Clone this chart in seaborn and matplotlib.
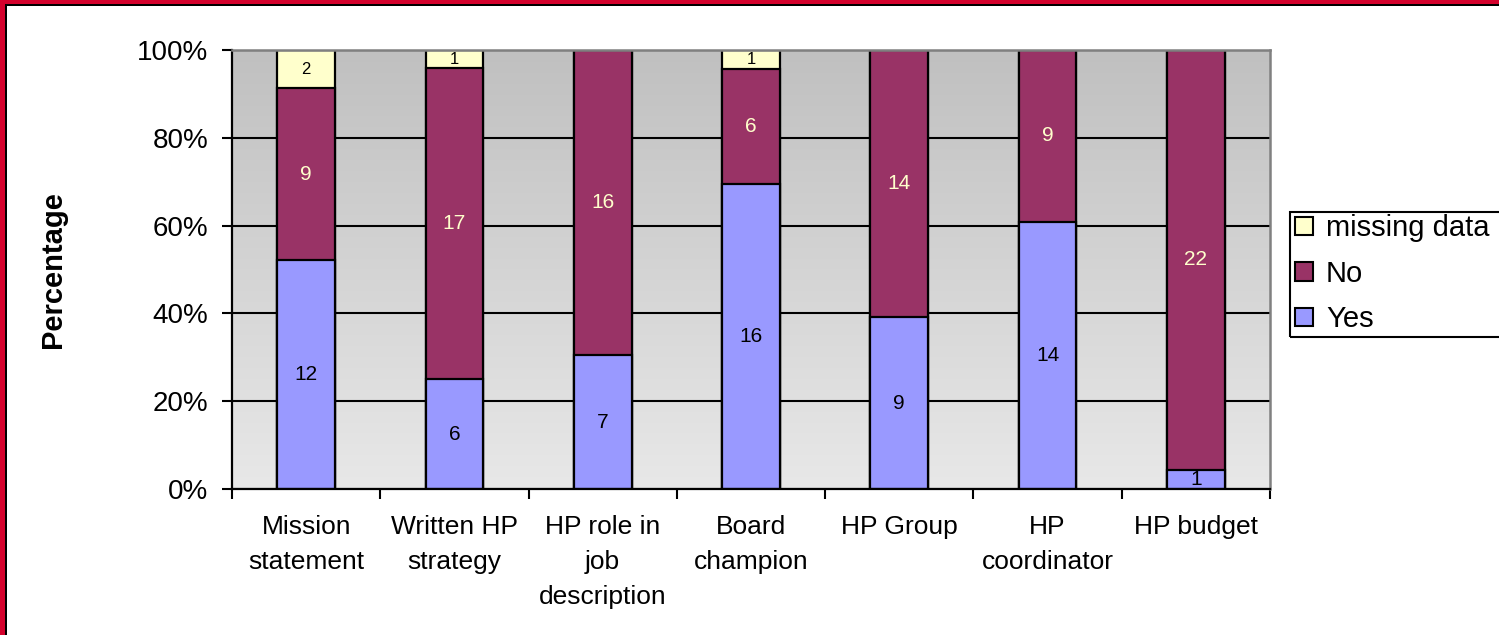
import numpy as np
import pandas as pd
import matplotlib
matplotlib.use("Agg")
import matplotlib.pyplot as plt
from matplotlib.colors import LinearSegmentedColormap
from matplotlib.patches import Rectangle, Patch
import seaborn as sns

# ---- data ----
categories = ["Mission\nstatement", "Written HP\nstrategy", "HP role in\njob\ndescription",
              "Board\nchampion", "HP Group", "HP\ncoordinator", "HP budget"]
yes = [12, 6, 7, 16, 9, 14, 1]
no = [9, 17, 16, 6, 14, 9, 22]
missing = [2, 1, 0, 1, 0, 0, 0]
series_names = ["Yes", "No", "missing data"]
y_ticks = [0, 20, 40, 60, 80, 100]
y_tick_labels = ["0%", "20%", "40%", "60%", "80%", "100%"]

colors = {"Yes": "#9999ff", "No": "#993366", "missing data": "#ffffcc"}
label_colors = {"Yes": "black", "No": "#ffffcc", "missing data": "black"}

df = pd.DataFrame({"category": categories, "Yes": yes, "No": no, "missing data": missing})
total = df[series_names].sum(axis=1)
for s in series_names:
    df[s + "_pct"] = df[s] / total * 100
df["cum_yes"] = df["Yes_pct"]
df["cum_no"] = df["Yes_pct"] + df["No_pct"]
df["cum_missing"] = df["cum_no"] + df["missing data_pct"]

sns.set_theme(style="white")
plt.rcParams["font.family"] = ["Liberation Sans", "DejaVu Sans"]
for k in ["text.color", "axes.labelcolor", "xtick.color", "ytick.color"]:
    plt.rcParams[k] = "black"

W, H = 1499, 635
fig = plt.figure(figsize=(W / 100, H / 100), dpi=100)
fig.patch.set_facecolor("white")
ax = fig.add_axes([232 / W, 1 - 489 / H, (1270 - 232) / W, (489 - 50) / H])

# gradient background
cmap = LinearSegmentedColormap.from_list("bg", ["#c0c0c0", "#e8e8e8"])
ax.imshow(np.linspace(0, 1, 256).reshape(-1, 1), extent=(-0.5, 6.5, 0, 100),
          aspect="auto", cmap=cmap, zorder=0, interpolation="bilinear")

bar_w = 0.39
layers = [("cum_missing", "missing data"), ("cum_no", "No"), ("cum_yes", "Yes")]
for col, name in layers:
    sns.barplot(data=df, x="category", y=col, order=categories, color=colors[name],
                saturation=1, width=bar_w, edgecolor="black", linewidth=1.6,
                errorbar=None, ax=ax, zorder=2)

# segment labels
bottoms = {"Yes": [0] * len(df), "No": df["cum_yes"].tolist(), "missing data": df["cum_no"].tolist()}
for name in series_names:
    for i in range(len(df)):
        cnt = df[name].iloc[i]
        if cnt == 0:
            continue
        mid = bottoms[name][i] + df[name + "_pct"].iloc[i] / 2
        fs = 12 if name == "missing data" else 15
        ax.text(i, mid, str(cnt), ha="center", va="center", fontsize=fs,
                color=label_colors[name], zorder=5)

ax.set_xlim(-0.5, 6.5)
ax.set_ylim(0, 100)
ax.set_yticks(y_ticks)
ax.set_yticklabels(y_tick_labels, fontsize=20)
ax.set_xticks(range(len(categories)))
ax.set_xticklabels(categories, fontsize=19, linespacing=1.57, va="top")
ax.set_xticks(np.arange(-0.5, 7, 1), minor=True)
ax.tick_params(axis="x", which="major", length=0, pad=19)
ax.tick_params(axis="x", which="minor", length=7, width=1.5, color="black", direction="out", bottom=True)
ax.tick_params(axis="y", length=7, width=1.5, color="black", direction="out", pad=10, left=True)
ax.set_xlabel("")
ax.set_ylabel("")

ax.set_axisbelow(True)
ax.yaxis.grid(True, color="black", linewidth=1.5)
ax.xaxis.grid(False)

for side in ["left", "bottom"]:
    ax.spines[side].set_color("black")
    ax.spines[side].set_linewidth(1.6)
for side in ["top", "right"]:
    ax.spines[side].set_color("#808080")
    ax.spines[side].set_linewidth(1.8)
for sp in ax.spines.values():
    sp.set_zorder(3)

fig.text(53 / W, 1 - 270 / H, "Percentage", rotation=90, ha="center", va="center",
         fontsize=21, fontweight="bold", color="black")

# legend (frame drawn separately so it runs off the right edge as in the original)
handles = [Patch(facecolor=colors[n], edgecolor="black", linewidth=1.5) for n in reversed(series_names)]
leg = fig.legend(handles, list(reversed(series_names)), loc="upper left",
                 bbox_to_anchor=(1291 / W, 1 - 210 / H), bbox_transform=fig.transFigure,
                 fontsize=21, frameon=False, borderaxespad=0,
                 handlelength=0.6, handleheight=0.6, handletextpad=0.45,
                 labelspacing=0.6, borderpad=0.15)
fig.add_artist(Rectangle((1290 / W, 1 - 337 / H), 230 / W, 125 / H, transform=fig.transFigure,
                         fill=False, edgecolor="black", lw=1.5, zorder=4))

# frame border (red + thin black inner line) on top and left
red = "#d4022d"
fig.add_artist(Rectangle((0, 0), 5 / W, 1, transform=fig.transFigure, color=red, lw=0, zorder=10))
fig.add_artist(Rectangle((0, 1 - 4 / H), 1, 4 / H, transform=fig.transFigure, color=red, lw=0, zorder=10))
fig.add_artist(Rectangle((5 / W, 0), 2 / W, 1 - 4 / H, transform=fig.transFigure, color="black", lw=0, zorder=10))
fig.add_artist(Rectangle((5 / W, 1 - 6 / H), 1, 2 / H, transform=fig.transFigure, color="black", lw=0, zorder=10))

fig.savefig("out.png", dpi=100)
